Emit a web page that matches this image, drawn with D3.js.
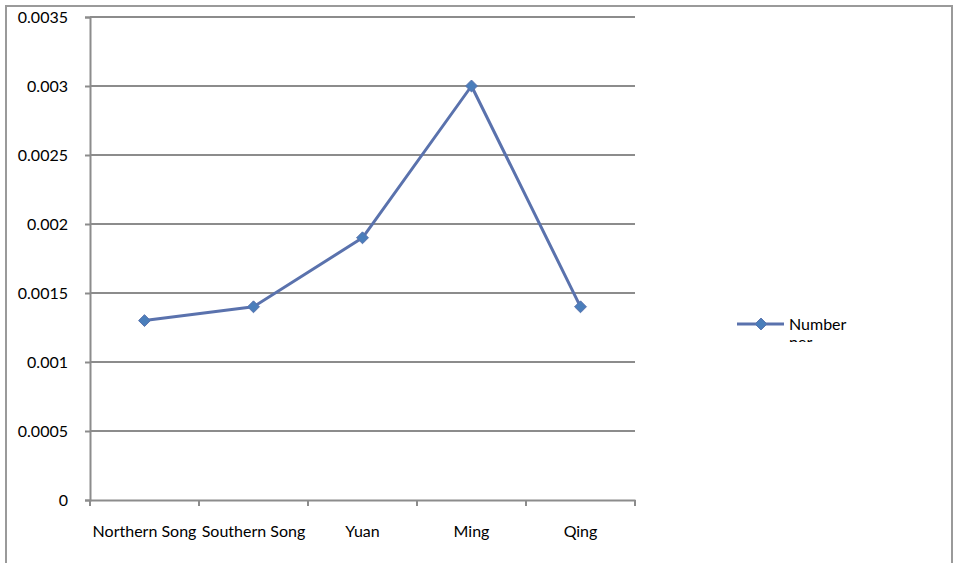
<!DOCTYPE html>
<html>
<head>
<meta charset="utf-8">
<script src="https://cdn.jsdelivr.net/npm/d3@7"></script>
<style>
  html, body { margin: 0; padding: 0; background: #fff; }
  svg { display: block; }
  text { font-family: Lato, "Open Sans", sans-serif; fill: #000; }
</style>
</head>
<body>
<svg id="chart" width="953" height="563"></svg>
<script>
// Dynasties along the x axis
const dynasties = ["Northern Song", "Southern Song", "Yuan", "Ming", "Qing"];
// Number per capita for each dynasty
const numberPer = [0.0013, 0.0014, 0.0019, 0.003, 0.0014];
// Value axis ticks
const yTicks = [0, 0.0005, 0.001, 0.0015, 0.002, 0.0025, 0.003, 0.0035];
const yTickLabels = ["0", "0.0005", "0.001", "0.0015", "0.002", "0.0025", "0.003", "0.0035"];
const seriesName = "Number per capita";

const svg = d3.select("#chart");
const W = 953, H = 563;
const plot = { left: 90, right: 635, top: 17, bottom: 500 };
const gridColor = "#8c8c8c";
const lineColor = "#5a72ad";
const markerColor = "#4a7ebb";
const fontFamily = "Lato, 'Open Sans', sans-serif";
const fontSize = 16;

// outer chart frame
svg.append("rect")
  .attr("x", 6).attr("y", 6)
  .attr("width", W - 7).attr("height", H + 10)
  .attr("fill", "none").attr("stroke", "#9a9a9a").attr("stroke-width", 2);

const x = d3.scaleBand().domain(dynasties).range([plot.left, plot.right]);
const y = d3.scaleLinear().domain([0, 0.0035]).range([plot.bottom, plot.top]);

// horizontal gridlines
svg.append("g").selectAll("line").data(yTicks.slice(1)).join("line")
  .attr("x1", plot.left).attr("x2", plot.right)
  .attr("y1", d => y(d)).attr("y2", d => y(d))
  .attr("stroke", gridColor).attr("stroke-width", 2);

// value axis
const yAxis = svg.append("g")
  .attr("transform", `translate(${plot.left},0)`)
  .call(d3.axisLeft(y).tickValues(yTicks).tickFormat((d, i) => yTickLabels[i]).tickSize(5).tickPadding(17));
yAxis.select(".domain").attr("stroke", gridColor).attr("stroke-width", 2);
yAxis.selectAll(".tick line").attr("stroke", gridColor).attr("stroke-width", 2);
yAxis.selectAll(".tick text").attr("font-size", fontSize).attr("font-family", fontFamily).attr("fill", "#000");

// category axis
const xAxis = svg.append("g")
  .attr("transform", `translate(0,${plot.bottom})`)
  .call(d3.axisBottom(x).tickSize(0).tickPadding(26));
xAxis.select(".domain").attr("stroke", gridColor).attr("stroke-width", 2);
xAxis.selectAll(".tick text").attr("font-size", fontSize).attr("font-family", fontFamily).attr("fill", "#000");
// category boundary tick marks
const bounds = dynasties.map(d => x(d)).concat([x(dynasties[dynasties.length - 1]) + x.bandwidth()]);
svg.append("g").selectAll("line").data(bounds).join("line")
  .attr("x1", d => d).attr("x2", d => d)
  .attr("y1", plot.bottom).attr("y2", plot.bottom + 6)
  .attr("stroke", gridColor).attr("stroke-width", 2);

// series line
const cx = d => x(d) + x.bandwidth() / 2;
const line = d3.line().x((d, i) => cx(dynasties[i])).y(d => y(d));
svg.append("path").datum(numberPer)
  .attr("d", line)
  .attr("fill", "none").attr("stroke", lineColor).attr("stroke-width", 3)
  .attr("stroke-linejoin", "round");

// diamond markers
const diamond = d3.symbol().type(d3.symbolDiamond2).size(90);
svg.append("g").selectAll("path").data(numberPer).join("path")
  .attr("d", diamond)
  .attr("transform", (d, i) => `translate(${cx(dynasties[i])},${y(d)})`)
  .attr("fill", markerColor).attr("stroke", lineColor).attr("stroke-width", 1);

// legend: entry text wraps one word per line and is cut off by the legend box
const lg = svg.append("g").attr("transform", "translate(737,324)");
lg.append("line").attr("x1", 0).attr("x2", 47).attr("y1", 0).attr("y2", 0)
  .attr("stroke", lineColor).attr("stroke-width", 3);
lg.append("path").attr("d", diamond).attr("transform", "translate(24,0)")
  .attr("fill", markerColor).attr("stroke", lineColor).attr("stroke-width", 1);
svg.append("clipPath").attr("id", "legclip")
  .append("rect").attr("x", 780).attr("y", 300).attr("width", 120).attr("height", 42);
const lt = svg.append("text").attr("clip-path", "url(#legclip)")
  .attr("font-size", fontSize).attr("x", 789).attr("y", 330);
seriesName.split(" ").forEach((w, i) => {
  lt.append("tspan").attr("x", 789).attr("dy", i === 0 ? 0 : 18).text(w);
});
</script>
</body>
</html>
